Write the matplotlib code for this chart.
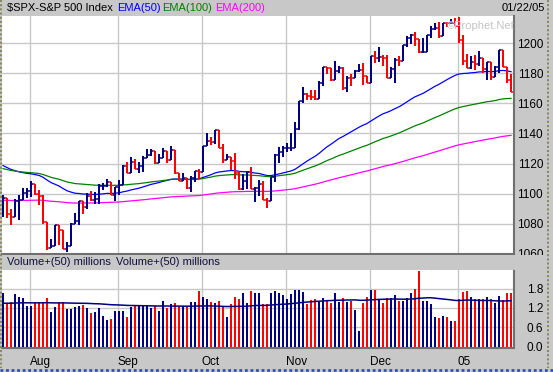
import matplotlib
matplotlib.use("Agg")
import matplotlib.pyplot as plt
import numpy as np
from matplotlib.lines import Line2D
from matplotlib.patches import Rectangle

plt.rcParams['font.family'] = ['Liberation Sans', 'DejaVu Sans']

W, H = 553, 372
GRAY = '#c8c8c8'
GRID = '#c8c8c8'
NAVY = '#000080'
RED = '#ff0000'

# daily bars, 22 Jul 2004 .. 21 Jan 2005 (trading days)
opens = [
    1086.20, 1096.84, 1086.20, 1084.07, 1094.83, 1095.42, 1100.43,
    1101.72, 1106.62, 1099.69, 1098.63, 1080.70, 1063.97, 1065.22, 1079.04, 1075.79, 1063.23,
    1064.80, 1079.34, 1081.71, 1095.17, 1091.23, 1098.35, 1095.68, 1096.19, 1104.96, 1105.09,
    1107.77, 1099.15,
    1104.24, 1105.91, 1118.31, 1113.63, 1121.30, 1116.27, 1118.38, 1123.92, 1125.82, 1128.33,
    1120.37, 1123.50, 1128.55, 1122.20, 1129.30, 1113.56, 1108.36, 1110.11, 1103.52, 1110.06,
    1114.80,
    1114.58, 1131.50, 1135.17, 1134.48, 1142.05, 1130.65, 1122.14, 1124.39, 1121.84, 1113.65,
    1103.29, 1108.20, 1114.02, 1103.23, 1103.66, 1106.49, 1095.74, 1094.81, 1111.09, 1125.34,
    1127.44,
    1130.20, 1130.51, 1130.54, 1143.20, 1161.67, 1166.17, 1164.89, 1164.08, 1162.91, 1173.48,
    1184.17, 1183.81, 1175.43, 1181.94, 1183.55, 1170.34, 1177.24, 1176.94, 1181.76, 1182.65,
    1178.57,
    1173.78, 1191.37, 1190.33, 1191.17, 1190.25, 1177.07, 1182.81, 1189.24, 1188.00, 1198.68,
    1203.38, 1205.72, 1203.21, 1194.20, 1194.65, 1205.45, 1209.57, 1210.13, 1204.92, 1213.54,
    1213.45, 1213.55,
    1211.92, 1202.08, 1188.05, 1183.74, 1187.89, 1186.19, 1190.25, 1182.99, 1187.70, 1177.45,
    1184.52, 1195.98, 1184.63, 1175.41,
]
highs = [
    1099.00, 1096.84, 1089.82, 1096.65, 1098.84, 1103.51, 1103.73,
    1108.60, 1106.62, 1102.45, 1098.79, 1080.70, 1069.46, 1079.04, 1079.04, 1075.79, 1067.58,
    1080.66, 1086.78, 1095.17, 1095.17, 1100.26, 1101.40, 1100.94, 1106.29, 1106.78, 1109.68,
    1107.77, 1104.24,
    1109.24, 1119.11, 1120.80, 1124.08, 1123.05, 1121.30, 1125.26, 1129.78, 1129.46, 1128.33,
    1126.06, 1130.14, 1128.55, 1131.54, 1129.30, 1113.61, 1113.81, 1110.11, 1111.77, 1114.80,
    1116.31,
    1131.64, 1140.13, 1137.87, 1142.05, 1142.05, 1132.92, 1126.20, 1124.39, 1127.01, 1114.96,
    1113.17, 1114.46, 1117.96, 1104.09, 1108.87, 1108.14, 1096.81, 1111.10, 1126.29, 1130.67,
    1131.40,
    1133.41, 1140.48, 1147.57, 1161.67, 1170.87, 1166.77, 1168.96, 1169.25, 1174.80, 1184.17,
    1184.48, 1183.81, 1188.46, 1184.90, 1184.00, 1178.18, 1179.52, 1182.46, 1186.62, 1186.94,
    1178.66,
    1191.37, 1194.80, 1197.46, 1192.41, 1192.17, 1184.05, 1190.51, 1191.45, 1198.74, 1205.29,
    1206.61, 1207.97, 1203.21, 1203.43, 1205.93, 1211.42, 1213.66, 1214.13, 1213.54, 1213.85,
    1216.47, 1217.33,
    1217.80, 1205.84, 1192.73, 1191.63, 1192.20, 1194.78, 1190.25, 1187.92, 1187.70, 1185.21,
    1195.98, 1195.98, 1184.63, 1179.45,
]
lows = [
    1084.16, 1083.56, 1078.78, 1084.07, 1082.17, 1095.42, 1096.96,
    1097.34, 1099.26, 1092.40, 1079.98, 1062.23, 1063.97, 1065.22, 1065.92, 1062.82, 1060.72,
    1064.80, 1079.34, 1078.93, 1086.28, 1089.57, 1094.73, 1092.82, 1093.24, 1102.46, 1104.62,
    1099.15, 1094.72,
    1099.18, 1105.60, 1113.57, 1113.63, 1116.11, 1113.62, 1114.39, 1123.35, 1124.72, 1119.82,
    1120.37, 1123.50, 1120.34, 1122.20, 1112.67, 1108.05, 1108.36, 1103.24, 1101.29, 1107.42,
    1109.68,
    1114.58, 1131.50, 1132.03, 1132.94, 1130.50, 1120.19, 1122.14, 1115.77, 1109.63, 1102.06,
    1102.14, 1103.33, 1103.15, 1094.25, 1098.47, 1095.47, 1090.29, 1094.81, 1107.43, 1120.60,
    1124.62,
    1127.60, 1128.12, 1130.54, 1142.34, 1160.66, 1162.32, 1162.48, 1162.51, 1162.91, 1171.43,
    1179.85, 1175.32, 1175.43, 1180.15, 1169.19, 1167.89, 1171.41, 1176.94, 1181.08, 1172.37,
    1173.81,
    1173.78, 1186.72, 1187.71, 1185.18, 1177.07, 1177.07, 1173.79, 1185.24, 1188.00, 1197.84,
    1199.44, 1198.41, 1193.36, 1193.36, 1194.65, 1203.85, 1208.71, 1203.83, 1204.92, 1210.95,
    1213.41, 1211.65,
    1200.32, 1185.39, 1183.72, 1183.27, 1182.16, 1184.80, 1180.43, 1175.64, 1175.81, 1177.45,
    1180.10, 1184.41, 1173.42, 1167.82,
]
closes = [
    1096.84, 1086.20, 1084.07, 1094.83, 1095.42, 1100.43, 1101.72,
    1106.62, 1099.69, 1098.63, 1080.70, 1063.97, 1065.22, 1079.04, 1075.79, 1063.23, 1064.80,
    1079.34, 1081.71, 1095.17, 1091.23, 1098.35, 1095.68, 1096.19, 1104.96, 1105.09, 1107.77,
    1099.15, 1104.24,
    1105.91, 1118.31, 1113.63, 1121.30, 1116.27, 1118.38, 1123.92, 1125.82, 1128.33, 1120.37,
    1123.50, 1128.55, 1122.20, 1129.30, 1113.56, 1108.36, 1110.11, 1103.52, 1110.06, 1114.80,
    1114.58,
    1131.50, 1135.17, 1134.48, 1142.05, 1130.65, 1122.14, 1124.39, 1121.84, 1113.65, 1103.29,
    1108.20, 1114.02, 1103.23, 1103.66, 1106.49, 1095.74, 1094.80, 1111.09, 1125.40, 1127.44,
    1130.20,
    1130.51, 1130.56, 1143.20, 1161.67, 1166.17, 1164.89, 1164.08, 1162.91, 1173.48, 1184.17,
    1183.81, 1175.43, 1181.94, 1183.55, 1170.34, 1177.24, 1176.94, 1181.76, 1182.65, 1178.57,
    1173.82,
    1191.37, 1190.33, 1191.17, 1190.25, 1177.07, 1182.81, 1189.24, 1188.00, 1198.68, 1203.38,
    1205.72, 1203.21, 1194.20, 1194.65, 1205.45, 1209.57, 1210.13, 1204.92, 1213.54, 1213.45,
    1213.55, 1211.92,
    1202.08, 1188.05, 1183.74, 1187.89, 1186.19, 1190.25, 1182.99, 1187.70, 1177.45, 1184.52,
    1195.98, 1184.63, 1175.41, 1167.87,
]
volume = [
    1.68, 1.32, 1.40, 1.62, 1.54, 1.52, 1.27,
    1.27, 1.34, 1.37, 1.40, 1.52, 1.09, 1.22, 1.40, 1.39, 1.16, 1.17, 1.24, 1.25, 1.29, 1.19,
    1.03, 1.07, 1.19, 0.96, 0.83, 0.85, 1.12,
    1.12, 1.12, 0.91, 1.22, 1.25, 1.25, 1.25, 1.25, 1.19, 1.25, 1.12, 1.42, 1.19, 1.32, 1.35,
    1.25, 1.25, 1.25, 1.39, 1.39, 1.73,
    1.55, 1.49, 1.39, 1.35, 1.42, 1.27, 0.93, 1.32, 1.55, 1.49, 1.65, 1.35, 1.73, 1.66, 1.66,
    1.32, 1.32, 1.66, 1.73, 1.68, 1.61,
    1.47, 1.63, 1.75, 1.75, 1.71, 1.32, 1.44, 1.47, 1.42, 1.50, 1.45, 1.35, 1.67, 1.40, 1.50,
    1.39, 1.42, 1.15, 0.50, 1.35, 1.55,
    1.76, 1.76, 1.47, 1.34, 1.50, 1.50, 1.61, 1.42, 1.42, 1.52, 1.66, 1.80, 2.34, 1.42, 1.42,
    1.32, 0.93, 0.89, 0.96, 0.93, 0.81, 0.79,
    1.47, 1.70, 1.73, 1.55, 1.47, 1.47, 1.47, 1.55, 1.47, 1.34, 1.57, 1.45, 1.68, 1.65,
]

# EMA / volume-average levels just before the first bar shown
ema_seeds = {50: 1119.5, 100: 1117.0, 200: 1095.5}
ema_colors = {50: '#0000ff', 100: '#008000', 200: '#ff00ff'}
vol_avg_seed = 1.34

month_start = [7, 29, 50, 71, 92, 114]
month_labels = ['Aug', 'Sep', 'Oct', 'Nov', 'Dec', '05']
price_ticks = [1060, 1080, 1100, 1120, 1140, 1160, 1180, 1200]
vol_ticks = [0.0, 0.6, 1.2, 1.8]

PX = 0.72  # one pixel, in points, at dpi 100


def ema(values, span, seed):
    k = 2.0 / (span + 1)
    out, e = [], seed
    for v in values:
        e += k * (v - e)
        out.append(e)
    return np.array(out)


def sma_padded(values, n, seed):
    padded = np.concatenate([np.full(n - 1, seed), values])
    return np.convolve(padded, np.ones(n) / n, mode='valid')


def px_box(x0, y0, x1, y1):
    return [x0 / W, 1 - y1 / H, (x1 - x0) / W, (y1 - y0) / H]


def fx(px):
    return px / W


def fy(py):
    return 1 - py / H


def dotted_spines(a):
    for side in ('top', 'left'):
        a.spines[side].set_visible(False)
    for side in ('right', 'bottom'):
        a.spines[side].set_linestyle((0, (1, 1)))
        a.spines[side].set_color('#707070')
        a.spines[side].set_linewidth(1.5)


o = np.array(opens)
h = np.array(highs)
l = np.array(lows)
c = np.array(closes)
v = np.array(volume)
x = np.arange(len(c))
prev = np.concatenate([[o[0]], c[:-1]])
colors = np.where(c >= prev, NAVY, RED)
grid_x = np.array(month_start) - 0.33

fig = plt.figure(figsize=(W / 100, H / 100), dpi=100, facecolor=GRAY)

# --- price panel ---
ax = fig.add_axes(px_box(2, 16, 514, 254))
ax.set_facecolor('white')
ax.set_xlim(-0.25, 127.75)
ax.set_ylim(1059.67, 1218.33)
ax.set_xticks(grid_x)
ax.set_yticks(price_ticks, [str(t) for t in price_ticks])
ax.yaxis.tick_right()
ax.tick_params(axis='x', length=0, labelbottom=False)
ax.tick_params(axis='y', length=0, pad=21, labelsize=8.5)
for lab in ax.get_yticklabels():
    lab.set_ha('right')
ax.grid(True, color=GRID, lw=1.0)
ax.set_axisbelow(True)
dotted_spines(ax)

for span, seed in ema_seeds.items():
    ax.plot(x, ema(c, span, seed), color=ema_colors[span], lw=0.9)

ax.vlines(x, l, h, colors=colors, lw=2 * PX, snap=True)
ax.hlines(o, x - 0.6, x, colors=colors, lw=1.5 * PX, snap=True)
ax.hlines(c, x, x + 0.6, colors=colors, lw=1.5 * PX, snap=True)

# --- volume panel ---
vax = fig.add_axes(px_box(2, 270, 514, 348))
vax.set_facecolor('white')
vax.set_xlim(-0.25, 127.75)
vax.set_ylim(-0.043, 2.379)
vax.set_yticks(vol_ticks, [f'{t:.1f}' for t in vol_ticks])
vax.yaxis.tick_right()
vax.tick_params(axis='y', length=0, pad=21, labelsize=8.5)
for lab in vax.get_yticklabels():
    lab.set_ha('right')
vax.set_xticks(grid_x, month_labels)
vax.tick_params(axis='x', length=0, pad=6, labelsize=8.5)
for lab in vax.get_xticklabels():
    lab.set_ha('left')
vax.grid(True, color=GRID, lw=1.0)
vax.set_axisbelow(True)
dotted_spines(vax)

vax.vlines(x, 0, v, colors=colors, lw=1.5 * PX, antialiased=False)
vax.plot(x, sma_padded(v, 50, vol_avg_seed), color=NAVY, lw=1.1)

# --- headers and frame ---
fig.add_artist(Rectangle((fx(2), fy(269)), fx(545), 14 / H, transform=fig.transFigure,
                         facecolor=GRAY, edgecolor='none', zorder=1))
fig.text(fx(7), fy(8), '$SPX-S&P 500 Index', fontsize=8, va='center', color='black')
fig.text(fx(117), fy(8), 'EMA(50)', fontsize=8, va='center', color=ema_colors[50])
fig.text(fx(162), fy(8), 'EMA(100)', fontsize=8, va='center', color=ema_colors[100])
fig.text(fx(215), fy(8), 'EMA(200)', fontsize=8, va='center', color=ema_colors[200])
fig.text(fx(545), fy(8), '01/22/05', fontsize=8, va='center', ha='right', color='black')
fig.text(fx(447), fy(26), '\u00a9Prophet.Net', fontsize=8, va='center', color='#c4c4c4')
fig.text(fx(7), fy(262), 'Volume+(50) millions', fontsize=8, va='center', color='#101040',
         zorder=4)
fig.text(fx(116), fy(262), 'Volume+(50) millions', fontsize=8, va='center', color='#101040',
         zorder=4)

fig.add_artist(Line2D([fx(1), fx(1)], [fy(0), fy(368)], color='#8a8a60', lw=1.5,
                      ls=(0, (1, 1))))
fig.add_artist(Line2D([fx(548), fx(548)], [fy(0), fy(368)], color='#8a8a60', lw=1.5,
                      ls=(0, (1, 1))))
fig.add_artist(Line2D([fx(0), fx(553)], [fy(370), fy(370)], color='#3050c0', lw=2,
                      ls=(0, (1, 1))))

fig.savefig('out.png', dpi=100, facecolor=GRAY)
